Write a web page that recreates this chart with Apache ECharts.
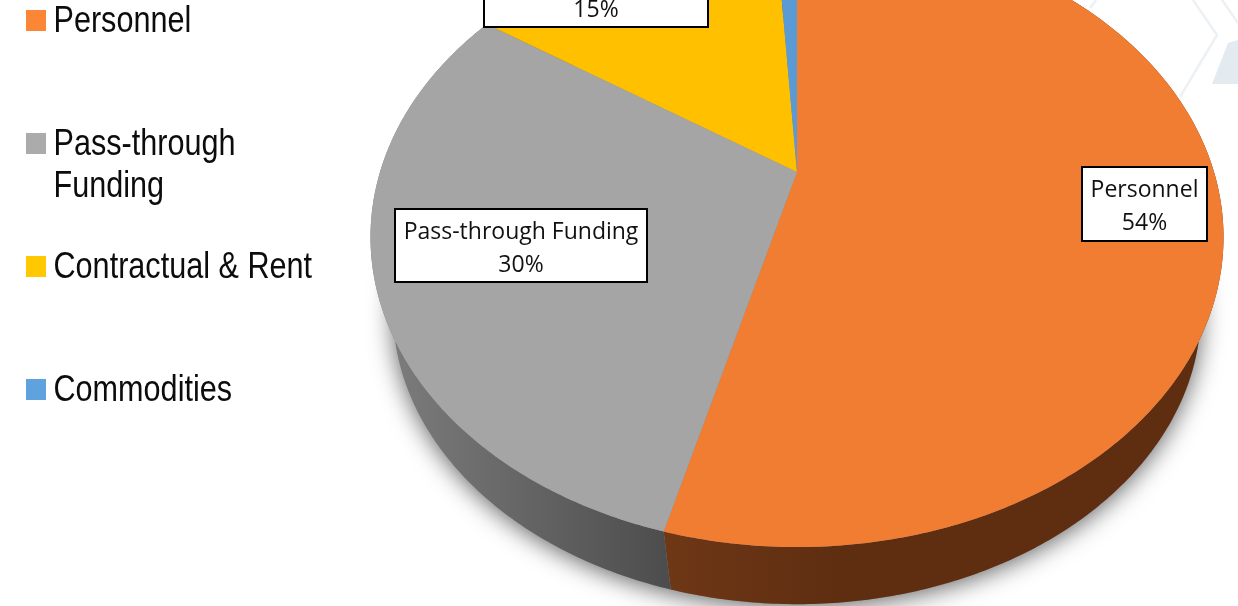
<!DOCTYPE html>
<html>
<head>
<meta charset="utf-8">
<style>html,body{margin:0;padding:0;background:#fff}#c{width:1238px;height:606px}</style>
<script src="https://cdn.jsdelivr.net/npm/echarts@6/dist/echarts.min.js"></script>
</head>
<body>
<div id="c"></div>
<script>
// ---- data ----
const categories = ['Personnel', 'Pass-through Funding', 'Contractual & Rent', 'Commodities'];
const values = [54.1, 30.3, 14.6, 1.0];
const percentLabels = ['54%', '30%', '15%', '1%'];
const legendLines = [['Personnel'], ['Pass-through', 'Funding'], ['Contractual & Rent'], ['Commodities']];
const faceColors = ['#F07D32', '#A5A5A5', '#FFC000', '#5B9BD5'];
const legendColors = ['#FB8635', '#ABABAB', '#FFC800', '#5FA2DD'];
const labelled = [true, true, true, false];

// ---- layout ----
const P = {cx: 797, cy: 172, rx: 417, ry: 296.3, k: 0.21, botY: 249, botS: 0.947};
const labelBoxes = [
  {x: 1144.5, y: 204, w: 125, h: 74},
  {x: 521, y: 245.5, w: 252, h: 73},
  {x: 596, y: -9.5, w: 224, h: 73}
];
const labelTextDy = 3;
const legendTops = [10, 133, 256, 379];
const legendBaselines = [[32], [155, 197], [278], [401]];
const total = values.reduce((a, b) => a + b, 0);

function topPt(t) {
  const u = Math.sin(t), v = -Math.cos(t), d = 1 - P.k * v;
  return [P.cx + P.rx * u / d, P.cy + P.ry * v / d];
}
function botPt(t) {
  const p = topPt(t);
  return [P.cx + P.botS * (p[0] - P.cx), P.botY + P.botS * (p[1] - P.cy)];
}
function arc(fn, a, b) {
  const n = Math.max(2, Math.ceil(Math.abs(b - a) / 0.01)), out = [];
  for (let i = 0; i <= n; i++) out.push(fn(a + (b - a) * i / n));
  return out;
}
function range(i) {
  let s = 0;
  for (let j = 0; j < i; j++) s += values[j];
  return [s / total * Math.PI * 2, (s + values[i]) / total * Math.PI * 2];
}
const G = (x0, x1, c0, c1) => new echarts.graphic.LinearGradient(x0, 0, x1, 0, [{offset: 0, color: c0}, {offset: 1, color: c1}], true);
const wallFills = () => [G(671, 830, '#6E3716', '#5F2E11'), G(390, 672, '#7C7C7C', '#4C4C4C'), '#8C6A00', '#3A5F82'];

const series = [{
  name: 'side walls',
  type: 'custom',
  coordinateSystem: 'none',
  silent: true,
  z: 1,
  data: values,
  renderItem: function (params) {
    const i = params.dataIndex, r = range(i), fills = wallFills();
    const children = [{
      type: 'polygon',
      shape: {points: arc(botPt, r[0], r[1]).concat(arc(topPt, r[1], r[0]))},
      style: {fill: fills[i]}
    }];
    if (i === 0) {
      children.unshift({
        type: 'polygon',
        z2: -1,
        shape: {points: arc(botPt, 0, Math.PI * 2)},
        style: {fill: '#888', shadowColor: 'rgba(0,0,0,0.62)', shadowBlur: 24, shadowOffsetY: 3}
      });
    }
    return {type: 'group', children: children};
  }
}];

categories.forEach(function (name, i) {
  series.push({
    name: name,
    type: 'custom',
    coordinateSystem: 'none',
    z: 3,
    itemStyle: {color: faceColors[i]},
    data: [values[i]],
    renderItem: function () {
      const r = range(i);
      const children = [{
        type: 'polygon',
        shape: {points: [[P.cx, P.cy]].concat(arc(topPt, r[0], r[1]))},
        style: {fill: faceColors[i]}
      }];
      if (labelled[i]) {
        const b = labelBoxes[i];
        children.push({
          type: 'rect',
          z2: 20,
          shape: {x: b.x - b.w / 2, y: b.y - b.h / 2, width: b.w, height: b.h},
          style: {fill: '#fff', stroke: '#000', lineWidth: 2}
        });
        children.push({
          type: 'text',
          z2: 21,
          style: {
            x: b.x, y: b.y + labelTextDy,
            text: name + '\n' + percentLabels[i],
            align: 'center', verticalAlign: 'middle',
            fontFamily: '"Open Sans"', fontSize: 23, lineHeight: 33,
            fill: '#111'
          }
        });
      }
      return {type: 'group', children: children};
    }
  });
});

const legends = categories.map(function (name, i) {
  return {
    left: 26, top: legendTops[i], padding: 0,
    orient: 'vertical',
    icon: 'rect', itemWidth: 20, itemHeight: 21,
    data: [{name: name, itemStyle: {color: legendColors[i]}}],
    selectedMode: false,
    formatter: () => '',
    textStyle: {fontSize: 1, color: '#000'}
  };
});

const legendTexts = [];
legendLines.forEach(function (lines, i) {
  lines.forEach(function (line, j) {
    legendTexts.push({
      type: 'text', z: 5, silent: true,
      x: 53.5, y: legendBaselines[i][j] - 10, scaleX: 0.85,
      style: {x: 0, y: 0, text: line, verticalAlign: 'middle', fontFamily: '"Liberation Sans"', fontSize: 36, fill: '#0c0c0c'}
    });
  });
});

const chart = echarts.init(document.getElementById('c'), null, {renderer: 'canvas'});
chart.setOption({
  animation: false,
  backgroundColor: '#fff',
  legend: legends,
  tooltip: {show: false},
  graphic: [
    {type: 'polyline', z: 0, silent: true, shape: {points: [[1193, 0], [1217, 35], [1180, 97]]}, style: {stroke: '#EDF1F4', lineWidth: 2.5, fill: null}},
    {type: 'polyline', z: 0, silent: true, shape: {points: [[1222, 0], [1238, 23]]}, style: {stroke: '#EDF1F4', lineWidth: 2.5, fill: null}},
    {type: 'polyline', z: 0, silent: true, shape: {points: [[1096, 0], [1090, 8]]}, style: {stroke: '#EDF1F4', lineWidth: 2.5, fill: null}},
    {type: 'polygon', z: 0, silent: true, shape: {points: [[1238, 40], [1228, 43], [1212, 84], [1238, 84]]}, style: {fill: '#E3EAF0'}}
  ].concat(legendTexts),
  series: series
});
</script>
</body>
</html>
